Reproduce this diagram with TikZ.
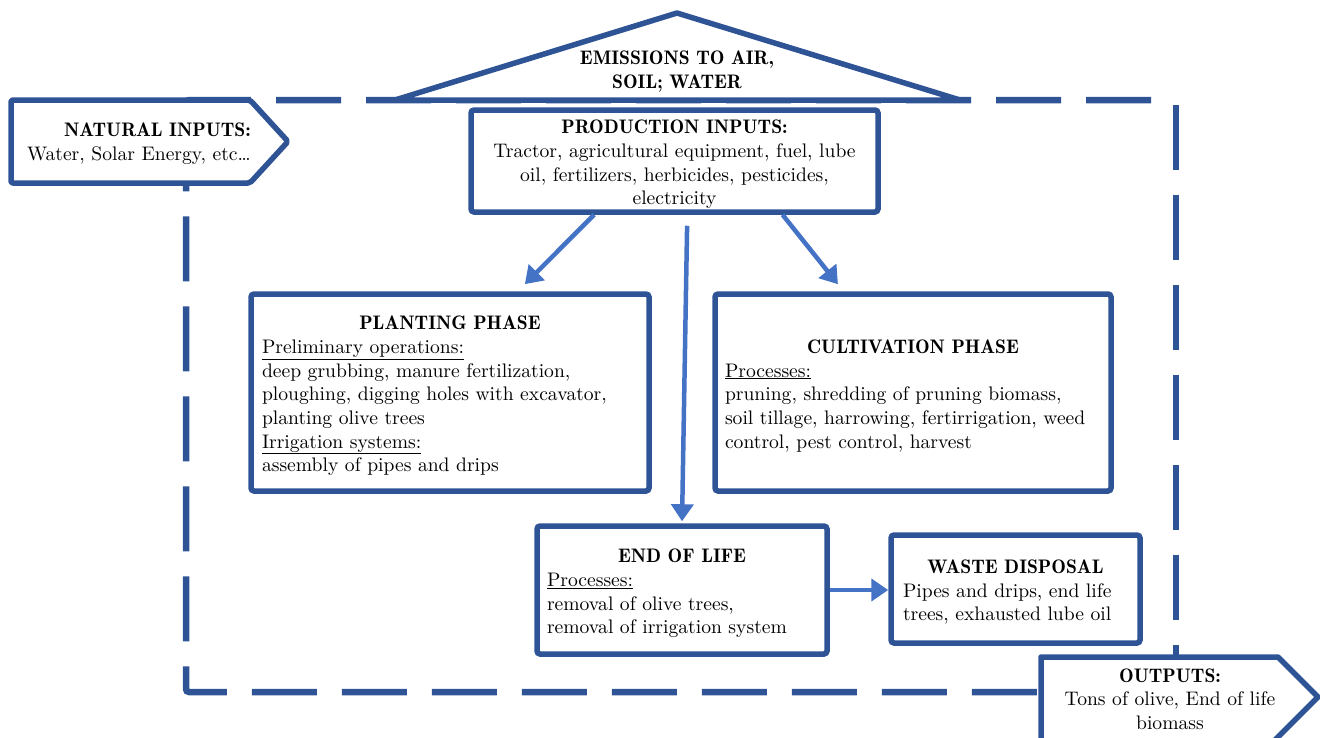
\documentclass[tikz,border=0pt]{standalone}
\usepackage{fontspec}
\setmainfont{lmroman10-regular.otf}[BoldFont=lmromandemi10-regular.otf]
\usetikzlibrary{arrows.meta,calc}
\definecolor{boxblue}{RGB}{47,84,150}
\definecolor{arrowblue}{RGB}{68,114,196}
\newcommand{\txtsize}{\fontsize{19.6}{23.7}\selectfont}
\newcommand{\dropbox}[1]{\raisebox{-3.5pt}[\height][\depth]{#1}}
\tikzset{
  box/.style={draw=boxblue, line width=5.5pt, rounded corners=3pt, fill=white, inner sep=0pt, font=\txtsize, text=black},
  tag/.style={inner sep=0pt, font=\txtsize, text=black},
  outline/.style={draw=boxblue, line width=5.5pt, fill=white, line join=round},
  boundary/.style={draw=boxblue, line width=6.5pt, dash pattern=on 65pt off 25pt, rounded corners=3pt},
  arr/.style={draw=arrowblue, line width=4.5pt, -{Triangle[length=17pt,width=22pt]}},
}
\begin{document}
\begin{tikzpicture}[x=1pt,y=-1pt]
\useasboundingbox (0,0) rectangle (1320,737);
% system boundary
\coordinate (bTL) at (186,100);
\coordinate (bTR) at (1176,100);
\coordinate (bBL) at (186,692);
\coordinate (bBR) at (1176,692);
\draw[boundary, dash phase=65pt] (bTR) -- (bTL) -- (bBL) -- (bBR);
\draw[boundary, dash phase=85pt] (bTR) -- (bBR);
% emissions triangle
\coordinate (emL) at (395,100);
\coordinate (emT) at (677,13);
\coordinate (emR) at (960,100);
\draw[outline] (emL) -- (emT) -- (emR) -- cycle;
\node[tag] (emis) at (677,72) {\begin{tabular}{@{}c@{}}\textbf{EMISSIONS TO AIR,}\\\textbf{SOIL; WATER}\end{tabular}};
% natural inputs
\draw[outline, rounded corners=2pt] (11,100) -- (250,100) -- (288,141.5) -- (250,183) -- (11,183) -- cycle;
\node[tag, anchor=east] (natin) at (251,144) {\begin{tabular}{@{}r@{}}\textbf{NATURAL INPUTS:}\\Water, Solar Energy, etc\ldots\end{tabular}};
% outputs
\draw[outline] (1041,745) -- (1041,657) -- (1278,657) -- (1318,697) -- (1270,745) -- cycle;
\node[tag] (outs) at (1170,701) {\begin{tabular}{@{}c@{}}\textbf{OUTPUTS:}\\Tons of olive, End of life\\biomass\end{tabular}};
% boxes
\node[box, minimum width=407pt, minimum height=102pt] (prod) at (674.5,161) {\dropbox{\begin{tabular}{@{}c@{}}\textbf{PRODUCTION INPUTS:}\\Tractor, agricultural equipment, fuel, lube\\oil, fertilizers, herbicides, pesticides,\\electricity\end{tabular}}};
\node[box, minimum width=398pt, minimum height=197pt] (plant) at (450,392.5) {\dropbox{\begin{tabular}{@{}l@{}}\makebox[376pt]{\textbf{PLANTING PHASE}}\\\underline{Preliminary operations:}\\deep grubbing, manure fertilization,\\ploughing, digging holes with excavator,\\planting olive trees\\\underline{Irrigation systems:}\\assembly of pipes and drips\end{tabular}}};
\node[box, minimum width=396pt, minimum height=197pt] (cult) at (913,392.5) {\dropbox{\begin{tabular}{@{}l@{}}\makebox[376pt]{\textbf{CULTIVATION PHASE}}\\\underline{Processes:}\\pruning, shredding of pruning biomass,\\soil tillage, harrowing, fertirrigation, weed\\control, pest control, harvest\end{tabular}}};
\node[box, minimum width=290pt, minimum height=128pt] (eol) at (682,590) {\dropbox{\begin{tabular}{@{}l@{}}\makebox[270pt]{\textbf{END OF LIFE}}\\\underline{Processes:}\\removal of olive trees,\\removal of irrigation system\end{tabular}}};
\node[box, minimum width=249pt, minimum height=108pt] (waste) at (1015.5,589) {\dropbox{\begin{tabular}{@{}l@{}}\makebox[225pt]{\textbf{WASTE DISPOSAL}}\\Pipes and drips, end life\\trees, exhausted lube oil\end{tabular}}};
% connectors
\draw[arr, shorten >=10pt] ($(prod.south west)!0.305!(prod.south east)$) -- ($(plant.north west)!0.668!(plant.north east)$);
\draw[arr, shorten >=9pt] ($(prod.south west)!0.762!(prod.south east)$) -- ($(cult.north west)!0.327!(cult.north east)$);
\draw[arr, shorten <=11pt, shorten >=2pt] ($(prod.south west)!0.531!(prod.south east)$) -- (eol.north);
\draw[arr] (eol.east) -- (eol.east -| waste.west);
\end{tikzpicture}
\end{document}
